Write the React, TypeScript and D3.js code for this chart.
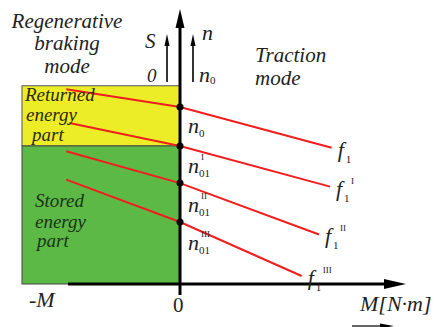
import React from "react";
import * as d3 from "d3";

// Characteristic curves: [M, n] in arbitrary units (n0 = 100)
const curveNames = ["f1", "f1I", "f1II", "f1III"];
const curveSup = ["", "I", "II", "III"];
const curveF1: [number, number][] = [[-72, 110], [0, 100], [96, 77]];
const curveF1I: [number, number][] = [[-70, 91], [0, 78], [95, 55]];
const curveF1II: [number, number][] = [[-72, 75], [0, 57], [88, 28]];
const curveF1III: [number, number][] = [[-72, 59], [0, 35], [77, 4.5]];
const curves = [curveF1, curveF1I, curveF1II, curveF1III];

// Regions (n ranges on the braking side)
const returnedRange: [number, number] = [78, 112];
const storedRange: [number, number] = [0, 78];
const regionM: [number, number] = [-100, 0];

const nLabelSubs = ["0", "01", "01", "01"];
const nLabelSups = ["", "I", "II", "III"];

const W = 446, H = 327;
const x = d3.scaleLinear().domain([-100, 100]).range([22, 338]);
const y = d3.scaleLinear().domain([0, 100]).range([284, 107]);

const serif = "Liberation Serif";
const it = { fontFamily: serif, fontStyle: "italic" as const };
const up = { fontFamily: serif, fontStyle: "normal" as const };

export default function App() {
  const line = d3.line<[number, number]>().x(d => x(d[0])).y(d => y(d[1]));
  const x0 = x(0);
  const y0 = y(0);
  return (
    <svg width={W} height={H} style={{ position: "absolute", left: 0, top: 0, background: "#fff" }}>
      {/* regions */}
      <rect x={x(regionM[0])} y={y(returnedRange[1])} width={x(regionM[1]) - x(regionM[0])}
        height={y(returnedRange[0]) - y(returnedRange[1])} fill="#eded27" stroke="#555" strokeWidth={1} />
      <rect x={x(regionM[0])} y={y(storedRange[1])} width={x(regionM[1]) - x(regionM[0])}
        height={y(storedRange[0]) - y(storedRange[1])} fill="#5cb946" stroke="#444" strokeWidth={1} />

      {/* curves */}
      {curves.map((c, i) => (
        <path key={curveNames[i]} d={line(c) || ""} fill="none" stroke="#f01e1e" strokeWidth={2} />
      ))}

      {/* axes */}
      <line x1={68} y1={y0} x2={385} y2={y0} stroke="#000" strokeWidth={3} />
      <path d={`M384,${y0 - 5} L406,${y0} L384,${y0 + 5} z`} fill="#000" />
      <line x1={x0} y1={295} x2={x0} y2={26} stroke="#000" strokeWidth={3} />
      <path d={`M${x0 - 4.5},28 L${x0},9 L${x0 + 4.5},28 z`} fill="#000" />

      {/* small S and n arrows */}
      <line x1={167} y1={82} x2={167} y2={44} stroke="#000" strokeWidth={1.6} />
      <path d="M164.5,46 L167,34 L169.5,46 z" fill="#000" />
      <line x1={193} y1={82} x2={193} y2={44} stroke="#000" strokeWidth={1.6} />
      <path d="M190.5,46 L193,34 L195.5,46 z" fill="#000" />

      {/* dots */}
      {curves.map((c, i) => (
        <circle key={"d" + i} cx={x0} cy={y(c[1][1])} r={3.5} fill="#000" />
      ))}

      <g fill="#222">
        <text x={67} y={28} fontSize={21} textAnchor="middle" style={it}>Regenerative</text>
        <text x={67} y={50} fontSize={21} textAnchor="middle" style={it}>braking</text>
        <text x={67} y={73} fontSize={21} textAnchor="middle" style={it}>mode</text>
        <text x={255} y={62} fontSize={21} style={it}>Traction</text>
        <text x={255} y={85} fontSize={21} style={it}>mode</text>

        <text x={25} y={101} fontSize={19} fill="#2a2a10" style={it}>Returned</text>
        <text x={26} y={121} fontSize={19} fill="#2a2a10" style={it}>energy</text>
        <text x={32} y={141} fontSize={19} fill="#2a2a10" style={it}>part</text>

        <text x={35} y={207} fontSize={19} fill="#1a3316" style={it}>Stored</text>
        <text x={35} y={228} fontSize={19} fill="#1a3316" style={it}>energy</text>
        <text x={37} y={247} fontSize={19} fill="#1a3316" style={it}>part</text>

        <text x={145} y={48} fontSize={21} style={it}>S</text>
        <text x={202} y={40} fontSize={22} style={it}>n</text>
        <text x={147} y={82} fontSize={19} style={it}>0</text>
        <text x={199} y={82} fontSize={22} style={it}>n</text>
        <text x={210} y={84} fontSize={11} style={up}>0</text>

        <text x={29} y={307} fontSize={22} style={it}>-M</text>
        <text x={360} y={311} fontSize={22} style={it}>M[N·m]</text>
        <text x={173} y={312} fontSize={21} style={up}>0</text>
      </g>
      <line x1={352} y1={326} x2={384} y2={326} stroke="#000" strokeWidth={1.2} />
      <path d="M380,323.5 L394,326 L380,328.5 z" fill="#000" />

      {/* n labels on axis */}
      {nLabelSubs.map((s, i) => {
        const ny = [133, 173, 212, 250][i];
        return (
          <g key={"n" + i} fill="#222">
            <text x={188} y={ny} fontSize={22} style={it}>n</text>
            <text x={199} y={ny + 4} fontSize={11} style={up}>{s}</text>
            {nLabelSups[i] && <text x={201} y={ny - 13} fontSize={9} style={up}>{nLabelSups[i]}</text>}
          </g>
        );
      })}

      {/* f labels */}
      {curves.map((c, i) => {
        const last = c[c.length - 1];
        const fx = x(last[0]) + 6;
        const fy = y(last[1]) + 9;
        return (
          <g key={"f" + i} fill="#222">
            <text x={fx} y={fy} fontSize={22} style={it}>f</text>
            <text x={fx + 8} y={fy + 6} fontSize={11} style={up}>1</text>
            {curveSup[i] && <text x={fx + 15} y={fy - 12} fontSize={9} style={up}>{curveSup[i]}</text>}
          </g>
        );
      })}
    </svg>
  );
}
